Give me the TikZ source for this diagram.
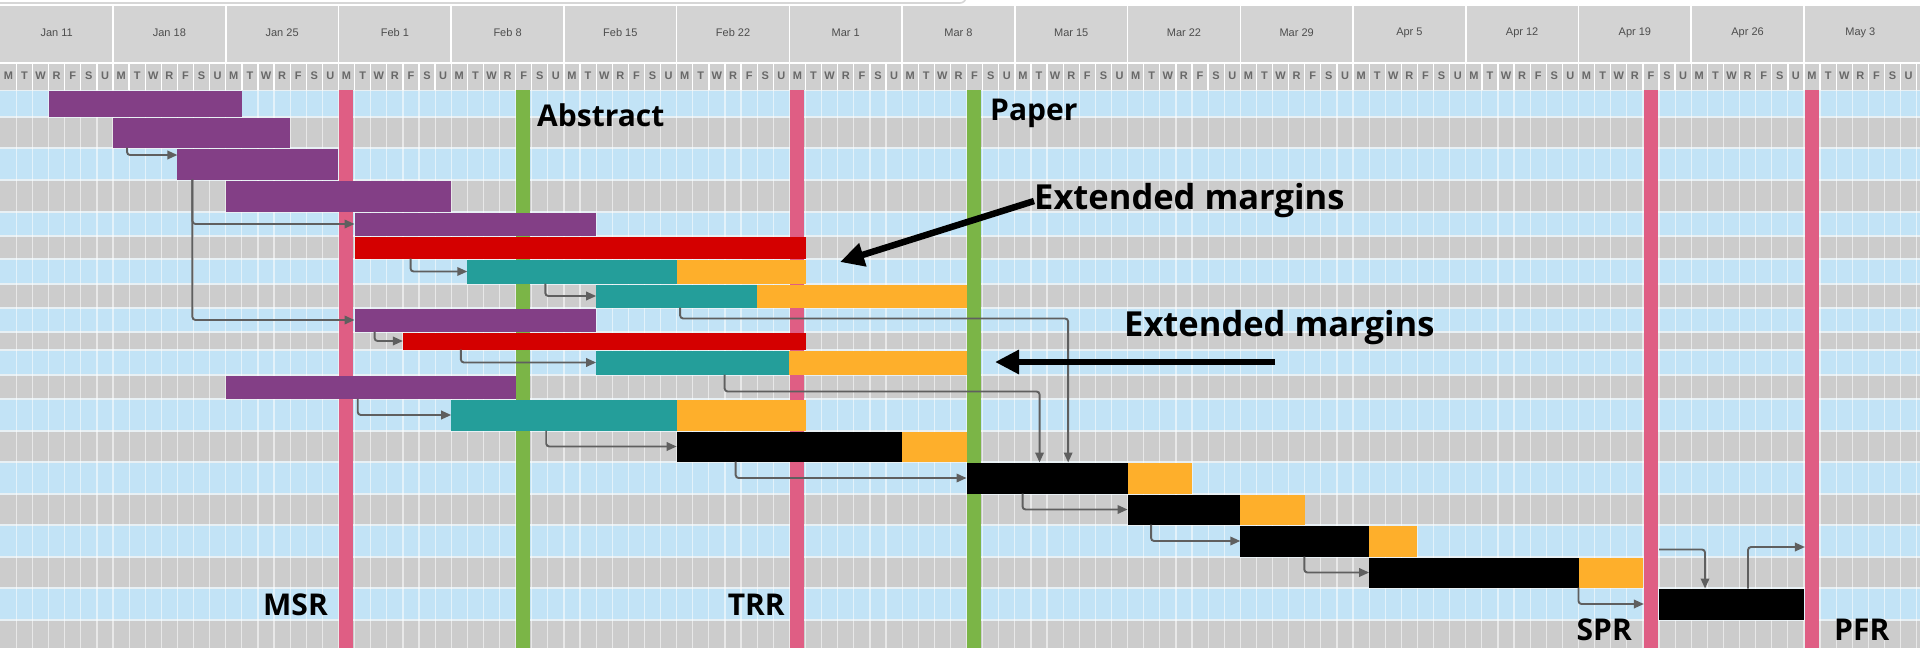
\documentclass[tikz,border=0pt]{standalone}
\usepackage{fontspec}
\setmainfont{Liberation Sans}
\newfontfamily\lblfont{Open Sans}
\usetikzlibrary{arrows.meta,calc}

\definecolor{rowblue}{HTML}{C2E3F6}
\definecolor{rowgray}{HTML}{CCCCCC}
\definecolor{rowsep}{HTML}{E8F0F4}
\definecolor{hdrgray}{HTML}{D3D3D3}
\definecolor{daygray}{HTML}{CFCFCF}
\definecolor{hdrtext}{HTML}{4D4D4D}
\definecolor{uiedge}{HTML}{D6D6D6}
\definecolor{taskpurple}{HTML}{833F86}
\definecolor{taskred}{HTML}{D40000}
\definecolor{taskteal}{HTML}{249E9A}
\definecolor{taskorange}{HTML}{FEAF2B}
\definecolor{reviewpink}{HTML}{DF5E84}
\definecolor{deadlinegreen}{HTML}{7BB547}
\definecolor{linkgray}{HTML}{5F5F5F}

\def\dw{16.104}% width of one day
\def\xo{0.3}% left edge of the first Monday

% name, colour, first day, end day, top, bottom
\newcommand\taskbar[6]{%
  \node[barbox, fill=#2, minimum width={(#4-#3)*\dw*1pt}, minimum height={(#6-#5-1)*1pt}]
    (#1) at ({\xo+#3*\dw},{#5+0.5}) {};}

\begin{document}
\begin{tikzpicture}[x=1pt,y=-1pt,
  barbox/.style={draw=none, inner sep=0pt, outer sep=0pt, anchor=north west},
  msline/.style={draw=none, inner sep=0pt, outer sep=0pt, anchor=north west,
                 minimum width=14pt, minimum height=558pt},
  link/.style={draw=linkgray, line width=1.9pt, rounded corners=3pt,
               -{Triangle[length=10pt,width=8.5pt]}},
  callout/.style={draw=black, line width=6.5pt, -{Triangle[length=24pt,width=23pt]}},
  tag/.style={font=\lblfont\bfseries\fontsize{30}{36}\selectfont, inner sep=0pt, text=black},
  bigtag/.style={font=\lblfont\bfseries\fontsize{34.5}{40}\selectfont, inner sep=0pt, text=black},
  wk/.style={font=\fontsize{11}{13}\selectfont, text=hdrtext, inner sep=0pt},
  dy/.style={font=\bfseries\fontsize{11}{13}\selectfont, text=hdrtext!85, inner sep=0pt}
]
\useasboundingbox (0,0) rectangle (1920,648);
\fill[white] (0,0) rectangle (1920,648);

% window edge above the header
\draw[uiedge, line width=1.6pt, rounded corners=6pt] (-20,-20) -- (-20,3) -- (966,3) -- (966,-20);

% ---- header: weeks and days ----
\fill[hdrgray] (0,6) rectangle (1920,63);
\fill[daygray] (0,63) rectangle (1920,89.5);
\foreach \w in {1,...,16}
  \draw[white, line width=1.5pt] ({\xo+\w*7*\dw},6) -- ({\xo+\w*7*\dw},63);
\foreach \k in {1,...,119}
  \draw[white, line width=1.3pt] ({\xo+\k*\dw},63) -- ({\xo+\k*\dw},89.5);
\draw[white, line width=1.5pt] (0,63) -- (1920,63);
\foreach \lab [count=\w from 0] in {Jan 11,Jan 18,Jan 25,Feb 1,Feb 8,Feb 15,Feb 22,Mar 1,
    Mar 8,Mar 15,Mar 22,Mar 29,Apr 5,Apr 12,Apr 19,Apr 26,May 3}
  \node[wk] (wk\w) at ({\xo+(\w+0.5)*7*\dw},33) {\lab};
\foreach \w in {0,...,16}
  \foreach \l [count=\d from 0] in {M,T,W,R,F,S,U}
    \node[dy] (dy\w-\d) at ({\xo+(\w*7+\d+0.5)*\dw},76) {\l};

% ---- body rows ----
\fill[rowsep] (0,89.5) rectangle (1920,648);
\foreach \t/\b [count=\i] in {90/117,117/148,148/180,180/212,212/236,236/259,259/284,
    284/308,308/332,332/350,350/375,375/399,399/431,431/462,462/494,494/525,525/557,
    557/588,588/620,620/652} {
  \ifodd\i \def\rc{rowblue}\else\def\rc{rowgray}\fi
  \fill[\rc] (0,{\t+0.8}) rectangle (1920,{\b-0.8});
}
\foreach \k in {1,...,119}
  \draw[white, opacity=0.55, line width=1.2pt] ({\xo+\k*\dw},89.5) -- ({\xo+\k*\dw},648);

% ---- review and deadline markers ----
\node[msline, fill=reviewpink]    (msr) at ({\xo+21*\dw+1},90) {};
\node[msline, fill=deadlinegreen] (abs) at ({\xo+32*\dw+0.5},90) {};
\node[msline, fill=reviewpink]    (trr) at ({\xo+49*\dw+0.2},90) {};
\node[msline, fill=deadlinegreen] (pap) at ({\xo+60*\dw+0.5},90) {};
\node[msline, fill=reviewpink]    (spr) at ({\xo+102*\dw+1},90) {};
\node[msline, fill=reviewpink]    (pfr) at ({\xo+112*\dw+1},90) {};

% ---- tasks ----
\taskbar{b1}{taskpurple}{3}{15}{90}{117}
\taskbar{b2}{taskpurple}{7}{18}{117}{148}
\taskbar{b3}{taskpurple}{11}{21}{148}{180}
\taskbar{b4}{taskpurple}{14}{28}{180}{212}
\taskbar{b5}{taskpurple}{22}{37}{212}{236}
\taskbar{b6}{taskred}{22}{50}{236}{259}
\taskbar{b7}{taskteal}{29}{42}{259}{284}
\taskbar{b7x}{taskorange}{42}{50}{259}{284}
\taskbar{b8}{taskteal}{37}{47}{284}{308}
\taskbar{b8x}{taskorange}{47}{60}{284}{308}
\taskbar{b9}{taskpurple}{22}{37}{308}{332}
\taskbar{b10}{taskred}{25}{50}{332}{350}
\taskbar{b11}{taskteal}{37}{49}{350}{375}
\taskbar{b11x}{taskorange}{49}{60}{350}{375}
\taskbar{b12}{taskpurple}{14}{32}{375}{399}
\taskbar{b13}{taskteal}{28}{42}{399}{431}
\taskbar{b13x}{taskorange}{42}{50}{399}{431}
\taskbar{b14}{black}{42}{56}{431}{462}
\taskbar{b14x}{taskorange}{56}{60}{431}{462}
\taskbar{b15}{black}{60}{70}{462}{494}
\taskbar{b15x}{taskorange}{70}{74}{462}{494}
\taskbar{b16}{black}{70}{77}{494}{525}
\taskbar{b16x}{taskorange}{77}{81}{494}{525}
\taskbar{b17}{black}{77}{85}{525}{557}
\taskbar{b17x}{taskorange}{85}{88}{525}{557}
\taskbar{b18}{black}{85}{98}{557}{588}
\taskbar{b18x}{taskorange}{98}{102}{557}{588}
\taskbar{b19}{black}{103}{112}{588}{620}

% ---- dependencies ----
\coordinate (hop) at (0,547);
\draw[link] ([xshift=14pt]b2.south west) |- ([yshift=9pt]b3.west);
\draw[link] ([xshift=15pt]b3.south west) |- (b5.west);
\draw[link] ([xshift=15pt]b3.south west) |- (b9.west);
\draw[link] ([xshift=56pt]b6.south west) |- (b7.west);
\draw[link] ([xshift=78pt]b7.south west) |- (b8.west);
\draw[link] ([xshift=20pt]b9.south west) |- (b10.west);
\draw[link] ([xshift=58pt]b10.south west) |- (b11.west);
\draw[link] ([xshift=132pt]b12.south west) |- (b13.west);
\draw[link] ([xshift=95pt]b13.south west) |- (b14.west);
\draw[link] ([xshift=84pt]b8.south west) -- ++(0,11) -| ([xshift=101.6pt]b15.north west);
\draw[link] ([xshift=128.5pt]b11.south west) -- ++(0,17) -| ([xshift=73pt]b15.north west);
\draw[link] ([xshift=59pt]b14.south west) |- (b15.west);
\draw[link] ([xshift=56pt]b15.south west) |- (b16.west);
\draw[link] ([xshift=23.5pt]b16.south west) |- (b17.west);
\draw[link] ([xshift=64pt]b17.south west) |- (b18.west);
\draw[link] (b18.south east) |- (b19.west -| spr.west);
\draw[link] ([yshift=39pt]b19.north west) -| ([xshift=46pt]b19.north west);
\draw[link] ([xshift=89pt]b19.north west) |- (pfr.west |- hop);

% ---- labels ----
\node[tag, anchor=base west] (labAbs) at (537,126) {Abstract};
\node[tag, anchor=base west] (labPap) at (990,120) {Paper};
\node[tag, anchor=base east] (labMSR) at (328,615) {MSR};
\node[tag, anchor=base east] (labTRR) at (785,615) {TRR};
\node[tag, anchor=base east] (labSPR) at (1632,640) {SPR};
\node[tag, anchor=base west] (labPFR) at (1834,640) {PFR};

\node[bigtag, anchor=base west] (em1) at (1034,209) {Extended margins};
\node[bigtag, anchor=base west] (em2) at (1124,336) {Extended margins};
\coordinate (em1tip) at (840,262);
\coordinate (em2tail) at (1275,362);
\coordinate (em2tip) at (995,362);
\draw[callout] ([yshift=-1pt]em1.west) -- (em1tip);
\draw[callout] (em2tail) -- (em2tip);
\end{tikzpicture}
\end{document}
